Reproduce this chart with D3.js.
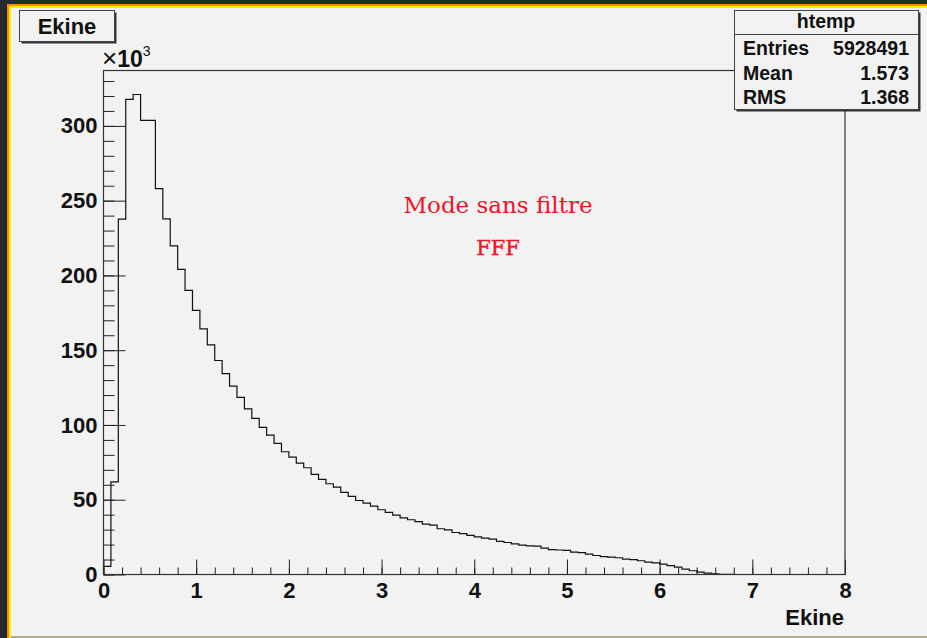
<!DOCTYPE html>
<html>
  <head>
    <meta charset="utf-8">
    <title>Ekine</title>
    <script src="https://d3js.org/d3.v7.min.js"></script>
    <style>
      body { margin: 0; background: #232a32; }
      svg { display: block; }
      .axis text { font-family: "Liberation Sans", Arial, sans-serif; font-weight: bold; font-size: 22px; fill: #111; }
      .axis line { stroke: #222; }
      .label { font-family: "Liberation Sans", Arial, sans-serif; font-weight: bold; fill: #111; }
      .note { font-family: "DejaVu Serif", "Liberation Serif", serif; fill: #ee1424; }
    </style>
  </head>
  <body>
    <svg id="chart" width="927" height="638"></svg>
    <script>
      // histogram Ekine, 100 bins from 0 to 8, contents in units of 10^3
      var binLow = 0, binHigh = 8;
      var counts = [
        5.4, 62, 237.6, 317.7, 321, 303.7, 303.7, 258, 237.8, 219.8,
        204, 190, 176.7, 164.3, 153.6, 143.1, 134.3, 126, 118.5, 110.7,
        104.4, 98.4, 93.2, 87.7, 82.1, 78.5, 74.5, 71.4, 66.9, 63.6,
        60.7, 58.4, 54.9, 52.2, 49.5, 47.7, 45.7, 43.3, 41.5, 39.7,
        37.9, 36.6, 35.3, 33.7, 33.0, 30.6, 29.9, 28.1, 27.4, 26.1,
        25.2, 24.3, 23.6, 22.1, 21.4, 20.5, 19.6, 19.2, 19.0, 17.6,
        16.7, 16.4, 16.1, 15.0, 14.6, 13.6, 12.7, 12.0, 11.6, 11.2,
        10.3, 9.9, 9.2, 8.3, 7.8, 6.9, 6.0, 4.9, 3.6, 2.5,
        1.6, 0.9, 0.4, 0.15, 0.05, 0, 0, 0, 0, 0,
        0, 0, 0, 0, 0, 0, 0, 0, 0, 0
      ];
      var xMajor = [0, 1, 2, 3, 4, 5, 6, 7, 8];
      var yMajor = [0, 50, 100, 150, 200, 250, 300];
      var histName = "htemp";
      var statLabels = ["Entries", "Mean", "RMS"];
      var statValues = ["5928491", "1.573", "1.368"];
      var titleText = "Ekine";
      var xTitle = "Ekine";
      var notes = ["Mode sans filtre", "FFF"];

      var svg = d3.select("#chart");
      var margin = { top: 70.5, right: 82, bottom: 63.5, left: 103.5 };
      var width = 927, height = 638;

      // canvas with its coloured border
      svg.append("rect").attr("x", 7).attr("y", 4).attr("width", width - 7).attr("height", height - 4).attr("fill", "#ff8a00");
      svg.append("rect").attr("x", 9).attr("y", 6).attr("width", width - 9).attr("height", height - 6).attr("fill", "#ffee00");
      svg.append("rect").attr("x", 11).attr("y", 8).attr("width", width - 11).attr("height", height - 8).attr("fill", "#f2f2f2");
      svg.append("rect").attr("x", 11).attr("y", 636).attr("width", width - 11).attr("height", 2).attr("fill", "#b3ab85");

      var n = counts.length;
      var binW = (binHigh - binLow) / n;
      var x = d3.scaleLinear().domain([binLow, binHigh]).range([margin.left, width - margin.right]);
      var y = d3.scaleLinear().domain([0, 1.05 * d3.max(counts)]).range([height - margin.bottom, margin.top]);

      // axes (ticks point into the frame)
      var xAxis = d3.axisBottom(x).tickValues(xMajor).tickSize(-15).tickSizeOuter(0).tickPadding(8).tickFormat(d3.format("d"));
      var xMinor = d3.axisBottom(x).tickValues(d3.range(binLow, binHigh + 0.001, 0.2)).tickSize(-7).tickSizeOuter(0).tickFormat("");
      var yAxis = d3.axisLeft(y).tickValues(yMajor).tickSize(-22).tickSizeOuter(0).tickPadding(6);
      var yMinor = d3.axisLeft(y).tickValues(d3.range(0, y.domain()[1], 10)).tickSize(-11).tickSizeOuter(0).tickFormat("");

      [xMinor, xAxis].forEach(function(a) {
        svg.append("g").attr("class", "axis")
          .attr("transform", "translate(0," + (height - margin.bottom) + ")")
          .call(a).call(function(g) { g.select(".domain").remove(); });
      });
      [yMinor, yAxis].forEach(function(a) {
        svg.append("g").attr("class", "axis")
          .attr("transform", "translate(" + margin.left + ",0)")
          .call(a).call(function(g) { g.select(".domain").remove(); });
      });

      // histogram outline
      var pts = [{ x: binLow, y: 0 }];
      counts.forEach(function(c, i) { pts.push({ x: binLow + i * binW, y: c }); });
      pts.push({ x: binHigh, y: counts[n - 1] });
      pts.push({ x: binHigh, y: 0 });
      var line = d3.line()
        .x(function(d) { return x(d.x); })
        .y(function(d) { return y(d.y); })
        .curve(d3.curveStepAfter);
      svg.append("path").attr("d", line(pts)).attr("fill", "none").attr("stroke", "#111").attr("stroke-width", 1.2);

      // frame
      svg.append("rect")
        .attr("x", x(binLow)).attr("y", y.range()[1])
        .attr("width", x(binHigh) - x(binLow)).attr("height", y.range()[0] - y.range()[1])
        .attr("fill", "none").attr("stroke", "#333").attr("stroke-width", 1.2);

      // x10^3 exponent
      var expo = svg.append("text").attr("class", "label").attr("x", 102).attr("y", 67).attr("font-size", 23);
      expo.append("tspan").attr("font-weight", "normal").attr("font-size", 26).text("\u00d7");
      expo.append("tspan").text("10");
      expo.append("tspan").attr("font-size", 14).attr("font-weight", "normal").attr("dy", -11).text("3");

      // axis title
      svg.append("text").attr("class", "label").attr("x", 844).attr("y", 625)
        .attr("text-anchor", "end").attr("font-size", 22).text(xTitle);

      // title box
      function box(x0, y0, w, h) {
        svg.append("rect").attr("x", x0 + 2).attr("y", y0 + 2).attr("width", w).attr("height", h).attr("fill", "#333");
        svg.append("rect").attr("x", x0).attr("y", y0).attr("width", w).attr("height", h)
          .attr("fill", "#f2f2f2").attr("stroke", "#444").attr("stroke-width", 1);
      }
      box(19.5, 10.5, 95, 31);
      svg.append("text").attr("class", "label").attr("x", 67).attr("y", 34)
        .attr("text-anchor", "middle").attr("font-size", 22).text(titleText);

      // statistics box
      box(734.5, 10.5, 184, 99);
      svg.append("line").attr("x1", 734.5).attr("x2", 918.5).attr("y1", 34.5).attr("y2", 34.5).attr("stroke", "#444");
      svg.append("text").attr("class", "label").attr("x", 826).attr("y", 28)
        .attr("text-anchor", "middle").attr("font-size", 19.5).text(histName);
      statLabels.forEach(function(s, i) {
        var by = 55 + i * 24.5;
        svg.append("text").attr("class", "label").attr("x", 743).attr("y", by).attr("font-size", 19.5).text(s);
        svg.append("text").attr("class", "label").attr("x", 909).attr("y", by)
          .attr("text-anchor", "end").attr("font-size", 19.5).text(statValues[i]);
      });

      // red annotation
      svg.append("text").attr("class", "note").attr("x", 498).attr("y", 213)
        .attr("text-anchor", "middle").attr("font-size", 23).text(notes[0]);
      svg.append("text").attr("class", "note").attr("x", 498).attr("y", 255)
        .attr("text-anchor", "middle").attr("font-size", 21).attr("stroke", "#ee1424").attr("stroke-width", 0.4).text(notes[1]);
    </script>
  </body>
</html>
